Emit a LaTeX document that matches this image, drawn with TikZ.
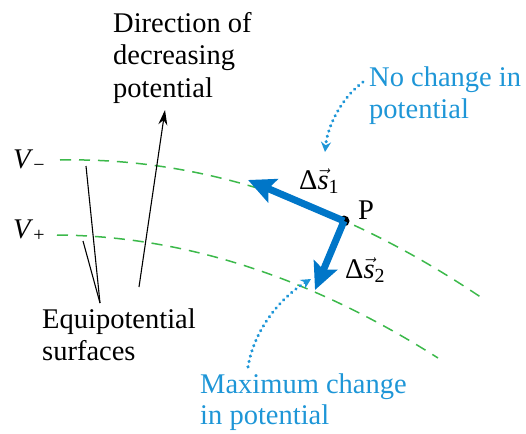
\documentclass[tikz,border=0pt]{standalone}
\usepackage{fontspec}
\setmainfont{Liberation Serif}
\usetikzlibrary{arrows.meta}
\definecolor{arrowblue}{RGB}{0,118,200}
\definecolor{txtblue}{RGB}{30,150,215}
\definecolor{eqgreen}{RGB}{60,185,75}
\begin{document}
\begin{tikzpicture}[x=1pt,y=-1pt,
  lbl/.style={font=\fontsize{28.5}{32}\selectfont, inner sep=0pt, anchor=base west},
  bluelbl/.style={lbl, text=txtblue},
  equi/.style={draw=eqgreen, line width=1.5pt, dash pattern=on 11pt off 8pt},
  bigvec/.style={draw=arrowblue, line width=7pt, -{Stealth[length=27pt,width=25pt,inset=5pt]}},
  pointer/.style={draw=txtblue, line width=3.2pt, line cap=round, dash pattern=on 0.3pt off 5.2pt, -{Stealth[length=10pt,width=10pt]}},
  blackline/.style={draw=black, line width=1.1pt}]
\useasboundingbox (0,0) rectangle (526,433);

% plain text first
\node[lbl] (dir1) at (113,33) {Direction of};
\node[lbl] (dir2) at (113,65) {decreasing};
\node[lbl] (dir3) at (113,97) {potential};
\node[lbl] (eq1) at (42,328) {Equipotential};
\node[lbl] (eq2) at (42,360) {surfaces};
\node[lbl] (Plbl) at (358,219) {P};
\node[bluelbl] (nc1) at (369,87) {No change in};
\node[bluelbl] (nc2) at (369,118) {potential};
\node[bluelbl] (mc1) at (200,393) {Maximum change};
\node[bluelbl] (mc2) at (200,424) {in potential};

% equipotential curves
\draw[equi] (60,160) .. controls (200.7,157.2) and (341.3,203.2) .. (482,298);
\draw[equi] (57,235) .. controls (184,235.9) and (311,277.3) .. (438,358);

% point P
\node[circle, fill=black, inner sep=0pt, minimum size=11pt] (P) at (344,221) {};

% vectors
\coordinate (s1tip) at (248,180);
\coordinate (s2tip) at (315,290);
\draw[bigvec] (P.center) -- (s1tip);
\draw[bigvec] (P.center) -- (s2tip);

% black pointer lines
\coordinate (eqc) at (100,303);
\coordinate (eqa) at (86,166);
\coordinate (eqb) at (83,241);
\draw[blackline] (eqc) -- (eqa);
\draw[blackline] (eqc) -- (eqb);
\coordinate (dirtail) at (139,287);
\coordinate (dirtip) at (165,110);
\draw[blackline, -{Stealth[length=15pt,width=9pt]}] (dirtail) -- (dirtip);

% dotted pointers
\coordinate (ncstart) at (363,82);
\coordinate (ncend) at (325,152);
\draw[pointer] (ncstart) .. controls (345,95) and (328,122) .. (ncend);
\coordinate (mcstart) at (248,367);
\coordinate (mcend) at (311,279);
\draw[pointer] (mcstart) .. controls (254,330) and (280,298) .. (mcend);

% labels with italics and math last
\node[lbl] (vminus) at (13,168) {\textit{V}\textsubscript{−}};
\node[lbl] (vplus) at (13,238) {\textit{V}\textsubscript{+}};
\node[lbl] (ds1) at (299,189) {Δ$\vec{\hbox{\itshape s}}$\textsubscript{1}};
\node[lbl] (ds2) at (345,278) {Δ$\vec{\hbox{\itshape s}}$\textsubscript{2}};
\end{tikzpicture}
\end{document}
